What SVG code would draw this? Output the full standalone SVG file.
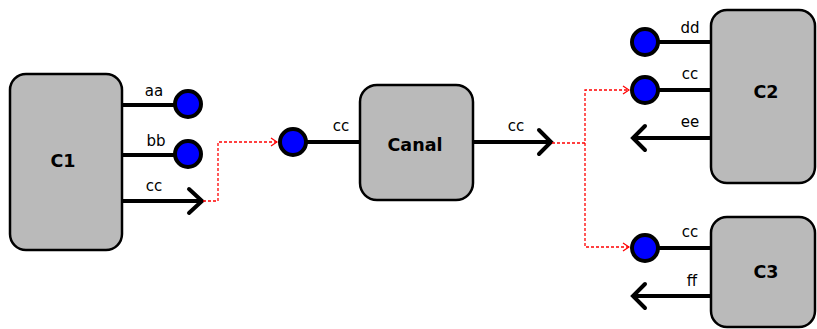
<svg xmlns="http://www.w3.org/2000/svg" width="817" height="329" viewBox="0 0 817 329">
<defs>
<style>
.box{fill:#bababa;stroke:#000;stroke-width:2.5}
.port{fill:#0000ff;stroke:#000;stroke-width:4}
.wire{stroke:#000;stroke-width:4;fill:none}
.chev{stroke:#000;stroke-width:4;fill:none;stroke-linecap:round;stroke-linejoin:miter}
.lbl{font-family:"DejaVu Sans",sans-serif;font-size:15px;fill:#000;text-anchor:middle}
.title{font-family:"DejaVu Sans",sans-serif;font-size:17.5px;font-weight:bold;fill:#000;text-anchor:middle}
.red{stroke:#ff0000;stroke-width:1.3;fill:none;stroke-dasharray:3,2}
</style>
<marker id="ra" viewBox="0 0 10 10" refX="9" refY="5" markerWidth="10" markerHeight="10" markerUnits="userSpaceOnUse" orient="auto">
<path d="M3,1 L9,5 L3,9" fill="none" stroke="#ff0000" stroke-width="1.3"/>
</marker>
</defs>
<rect width="817" height="329" fill="#fff"/>
<g id="C1">
<rect class="box" x="10" y="74" width="112" height="176" rx="16"/>
<text class="title" x="63" y="167">C1</text>
<line class="wire" x1="122" y1="105" x2="178" y2="105"/>
<circle class="port" cx="188" cy="104" r="13"/>
<text class="lbl" x="154" y="96">aa</text>
<line class="wire" x1="122" y1="155" x2="178" y2="155"/>
<circle class="port" cx="188" cy="154" r="13"/>
<text class="lbl" x="156" y="146">bb</text>
<line class="wire" x1="122" y1="201" x2="201" y2="201"/>
<path class="chev" d="M189,189 L202,201 L189,213"/>
<text class="lbl" x="154" y="191">cc</text>
</g>
<g id="Canal">
<rect class="box" x="360" y="85" width="113" height="115" rx="17"/>
<text class="title" x="415" y="151">Canal</text>
<circle class="port" cx="293" cy="142" r="13"/>
<line class="wire" x1="306" y1="142" x2="360" y2="142"/>
<text class="lbl" x="341" y="131">cc</text>
<line class="wire" x1="473" y1="142" x2="550" y2="142"/>
<path class="chev" d="M539,130 L551,142 L539,154"/>
<text class="lbl" x="516" y="131">cc</text>
</g>
<g id="C2">
<rect class="box" x="711" y="10" width="104" height="173" rx="16"/>
<text class="title" x="766" y="98">C2</text>
<circle class="port" cx="645" cy="42" r="13"/>
<line class="wire" x1="658" y1="42" x2="711" y2="42"/>
<text class="lbl" x="690" y="33">dd</text>
<circle class="port" cx="645" cy="90" r="13"/>
<line class="wire" x1="658" y1="90" x2="711" y2="90"/>
<text class="lbl" x="690" y="79">cc</text>
<line class="wire" x1="711" y1="138" x2="635" y2="138"/>
<path class="chev" d="M645,126 L633,138 L645,150"/>
<text class="lbl" x="690" y="127">ee</text>
</g>
<g id="C3">
<rect class="box" x="711" y="217" width="104" height="110" rx="16"/>
<text class="title" x="766" y="278">C3</text>
<circle class="port" cx="645" cy="248" r="13"/>
<line class="wire" x1="658" y1="248" x2="711" y2="248"/>
<text class="lbl" x="690" y="237">cc</text>
<line class="wire" x1="711" y1="296" x2="635" y2="296"/>
<path class="chev" d="M645,284 L633,296 L645,308"/>
<text class="lbl" x="692" y="286">ff</text>
</g>
<g id="connectors">
<path class="red" d="M203,201 H218 V142 H277" marker-end="url(#ra)"/>
<path class="red" d="M552,143 H585 V90 H629" marker-end="url(#ra)"/>
<path class="red" d="M585,143 V247 H629" marker-end="url(#ra)"/>
</g>
</svg>
